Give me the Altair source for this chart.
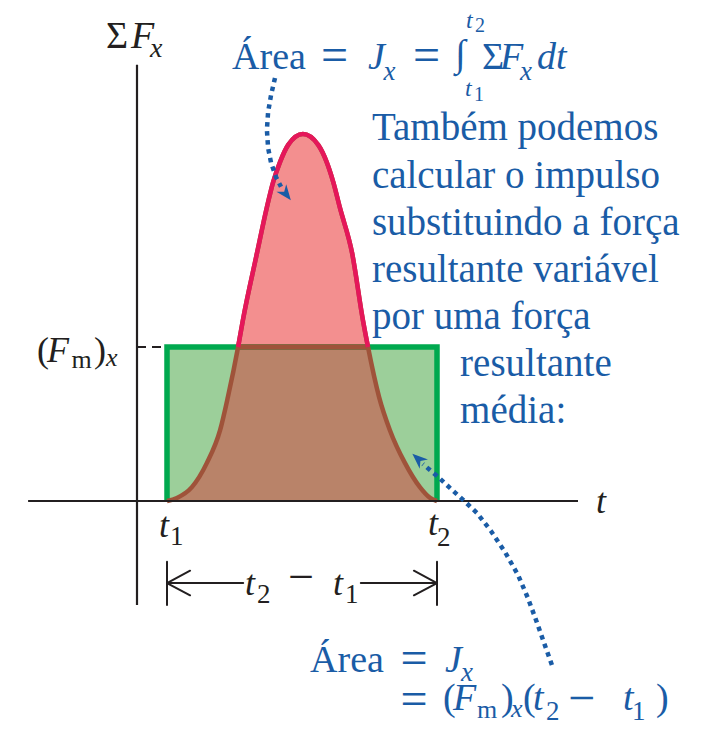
import altair as alt
import pandas as pd

# Impulse of a varying net force: the pulse F(t) between t1 and t2 and the
# rectangle of the average force (F_m)_x over the same interval.
T1, T2 = 1.0, 10.0
FM = 4.0

curve_t = [1.00, 1.33, 1.83, 2.33, 2.77, 3.03, 3.37, 3.53, 4.00, 4.32, 4.54, 4.77, 5.04, 5.53,
           6.04, 6.32, 6.54, 6.77, 7.17, 7.53, 7.70, 8.07, 8.43, 8.93, 9.43, 9.77, 10.00]
curve_f = [0.00, 0.08, 0.36, 0.99, 1.84, 2.70, 4.00, 4.70, 6.44, 7.60, 8.29, 8.81, 9.25, 9.53,
           9.25, 8.81, 8.29, 7.60, 6.44, 4.70, 4.00, 2.70, 1.84, 0.99, 0.36, 0.08, 0.00]

# dotted pointers from the captions to the two areas
ptr_top_t = [4.60, 4.47, 4.37, 4.33, 4.37, 4.47, 4.63, 4.80]
ptr_top_f = [10.99, 10.55, 10.10, 9.64, 9.17, 8.78, 8.42, 8.16]
ptr_bot_t = [13.83, 13.57, 13.30, 13.03, 12.70, 12.27, 11.80, 11.33, 10.87, 10.43, 10.00, 9.53]
ptr_bot_f = [-4.26, -3.69, -3.09, -2.52, -1.92, -1.33, -0.78, -0.31, 0.03, 0.34, 0.65, 0.96]
heads_t = [4.97, 9.37]
heads_f = [7.97, 1.09]
heads_angle = [52, 222]

NOTE_LINES = ["Também podemos", "calcular o impulso", "substituindo a força",
              "resultante variável", "por uma força", "resultante", "média:"]

# drawing frame
X_DOMAIN = [-4.5667, 18.8]
Y_DOMAIN = [-5.922, 13.013]
W, H = 701, 729

INK = "#231f20"
BLUE = "#1a5ca6"
GREEN = "#00a94f"
GREEN_FILL = "#9ccf9a"
PINK_FILL = "#f38f8f"
RED = "#e5175a"
BROWN_FILL = "#b98369"
BROWN = "#9f533a"
SERIF = "Liberation Serif"

xs = alt.Scale(domain=X_DOMAIN, nice=False, zero=False)
ys = alt.Scale(domain=Y_DOMAIN, nice=False, zero=False)


def X(f):
    return alt.X(f, type="quantitative", scale=xs, axis=None)


def Y(f):
    return alt.Y(f, type="quantitative", scale=ys, axis=None)


curve = pd.DataFrame({"t": curve_t, "F": curve_f})
base = alt.Chart(curve)

rect_df = pd.DataFrame({"t": [T1], "t2": [T2], "f": [0.0], "f2": [FM]})
green_fill = alt.Chart(rect_df).mark_rect(color=GREEN_FILL).encode(
    x=X("t"), x2="t2", y=Y("f"), y2="f2")

brown_area = base.transform_calculate(z="0").mark_area(
    color=BROWN_FILL, interpolate="monotone").encode(x=X("t"), y=Y("F"), y2="z:Q")

pink_area = base.transform_calculate(
    top=f"max(datum.F, {FM})", fm=str(FM)).mark_area(
    color=PINK_FILL, interpolate="monotone").encode(x=X("t"), y=Y("top"), y2="fm:Q")

outline_df = pd.DataFrame({"t": [T1, T1, T2, T2], "F": [0.0, FM, FM, 0.0], "i": [0, 1, 2, 3]})
green_outline = alt.Chart(outline_df).mark_line(
    color=GREEN, strokeWidth=5.5, strokeJoin="miter", strokeCap="butt").encode(
    x=X("t"), y=Y("F"), order="i:Q")

top_overlap = base.transform_filter(f"datum.F >= {FM}").transform_aggregate(
    a="min(t)", b="max(t)").transform_calculate(fm=str(FM)).mark_rule(
    color=BROWN, strokeWidth=5.5).encode(x=X("a"), x2="b:Q", y=Y("fm"))

brown_line = base.mark_line(color=BROWN, strokeWidth=4.5, interpolate="monotone").encode(
    x=X("t"), y=Y("F"))
red_line = base.transform_filter(f"datum.F >= {FM}").mark_line(
    color=RED, strokeWidth=4.5, interpolate="monotone").encode(x=X("t"), y=Y("F"))

# coordinate axes
axes_df = pd.DataFrame({"t": [0.0, -3.63], "F": [-2.70, 0.0], "t2": [0.0, 14.7], "F2": [11.33, 0.0]})
axes = alt.Chart(axes_df).mark_rule(color=INK, strokeWidth=2.2).encode(
    x=X("t"), y=Y("F"), x2="t2", y2="F2")

dash_df = pd.DataFrame({"t": [0.0], "F": [FM], "t2": [T1], "F2": [FM]})
dashed = alt.Chart(dash_df).mark_rule(color=INK, strokeWidth=2, strokeDash=[9, 6]).encode(
    x=X("t"), y=Y("F"), x2="t2", y2="F2")

# dimension line for t2 - t1
yb, bar_top, bar_bot, hx, hy = -2.13, -1.58, -2.70, 0.77, 0.32
seg = [
    (T1, bar_top, T1, bar_bot), (T2, bar_top, T2, bar_bot),
    (T1, yb, 3.54, yb), (7.46, yb, T2, yb),
    (T1, yb, T1 + hx, yb + hy), (T1, yb, T1 + hx, yb - hy),
    (T2, yb, T2 - hx, yb + hy), (T2, yb, T2 - hx, yb - hy),
]
dim_df = pd.DataFrame(seg, columns=["t", "F", "t2", "F2"])
dimension = alt.Chart(dim_df).mark_rule(color=INK, strokeWidth=2, strokeCap="round").encode(
    x=X("t"), y=Y("F"), x2="t2", y2="F2")

# dotted pointers
ptr_df = pd.concat([
    pd.DataFrame({"t": ptr_top_t, "F": ptr_top_f, "p": "a", "i": range(len(ptr_top_t))}),
    pd.DataFrame({"t": ptr_bot_t, "F": ptr_bot_f, "p": "b", "i": range(len(ptr_bot_t))}),
])
pointers = alt.Chart(ptr_df).mark_line(
    color=BLUE, strokeWidth=4.5, strokeDash=[4.5, 4.5], strokeCap="butt").encode(
    x=X("t"), y=Y("F"), detail="p:N", order="i:Q")

head_df = pd.DataFrame({"t": heads_t, "F": heads_f, "a": heads_angle})
heads = alt.Chart(head_df).mark_point(
    shape="M 1 0 L -1 -0.8 L -0.4 0 L -1 0.8 Z", filled=True, color=BLUE, opacity=1,
    size=240).encode(x=X("t"), y=Y("F"), angle=alt.Angle("a:Q", scale=None))

# text pieces: (t, F, text, size, italic, colour)
pieces = [
    (-1.03, 11.77, "Σ", 38, False, INK), (-0.20, 11.77, "F", 38, True, INK),
    (0.43, 11.53, "x", 28, True, INK),
    (15.30, -0.31, "t", 36, True, INK),
    (-3.33, 3.61, "(", 36, False, INK), (-3.0, 3.61, "F", 36, True, INK),
    (-2.18, 3.45, "m", 26, False, INK), (-1.43, 3.61, ")", 36, False, INK),
    (-1.03, 3.51, "x", 26, True, INK),
    (0.73, -0.94, "t", 36, True, INK), (1.10, -1.14, "1", 27, False, INK),
    (9.70, -0.88, "t", 36, True, INK), (10.00, -1.17, "2", 27, False, INK),
    (3.60, -2.44, "t", 36, True, INK), (4.00, -2.65, "2", 27, False, INK),
    (5.04, -2.37, "−", 46, False, INK),
    (6.53, -2.44, "t", 36, True, INK), (6.93, -2.65, "1", 27, False, INK),
    # J_x as an integral
    (3.17, 11.22, "Área", 38, False, BLUE), (6.13, 11.16, "=", 48, False, BLUE),
    (7.70, 11.22, "J", 38, True, BLUE), (8.22, 10.94, "x", 27, True, BLUE),
    (9.20, 11.16, "=", 48, False, BLUE), (10.60, 11.29, "∫", 38, False, BLUE),
    (10.97, 12.29, "t", 24, True, BLUE), (11.27, 12.18, "2", 20, False, BLUE),
    (10.93, 10.52, "t", 24, True, BLUE), (11.23, 10.39, "1", 20, False, BLUE),
    (11.50, 11.22, "Σ", 38, False, BLUE), (12.10, 11.22, "F", 38, True, BLUE),
    (12.77, 10.94, "x", 27, True, BLUE), (13.33, 11.22, "dt", 38, True, BLUE),
    # J_x from the average force
    (5.77, -4.44, "Área", 38, False, BLUE), (8.78, -4.49, "=", 48, False, BLUE),
    (10.27, -4.44, "J", 38, True, BLUE), (10.80, -4.68, "x", 27, True, BLUE),
    (8.78, -5.56, "=", 48, False, BLUE), (10.20, -5.43, "(", 38, False, BLUE),
    (10.53, -5.43, "F", 38, True, BLUE), (11.33, -5.64, "m", 26, False, BLUE),
    (12.13, -5.43, ")", 38, False, BLUE), (12.47, -5.61, "x", 26, True, BLUE),
    (12.87, -5.43, "(", 38, False, BLUE), (13.20, -5.43, "t", 38, True, BLUE),
    (13.63, -5.69, "2", 27, False, BLUE), (14.37, -5.53, "−", 48, False, BLUE),
    (16.20, -5.43, "t", 38, True, BLUE), (16.50, -5.69, "1", 27, False, BLUE),
    (17.30, -5.43, ")", 38, False, BLUE),
]
note_t = [7.83, 7.83, 7.83, 7.83, 7.83, 10.77, 10.77]
note_f = [9.38, 8.13, 6.91, 5.69, 4.47, 3.25, 2.03]
for tt, ff, line in zip(note_t, note_f, NOTE_LINES):
    pieces.append((tt, ff, line, 39, False, BLUE))

text_df = pd.DataFrame(pieces, columns=["t", "F", "s", "size", "it", "c"])


def text_layer(italic):
    return alt.Chart(text_df).transform_filter(
        "datum.it" if italic else "!datum.it").mark_text(
        font=SERIF, fontStyle="italic" if italic else "normal",
        align="left", baseline="alphabetic").encode(
        x=X("t"), y=Y("F"), text="s:N",
        size=alt.Size("size:Q", scale=None),
        color=alt.Color("c:N", scale=None))


chart = alt.layer(
    green_fill, brown_area, pink_area, green_outline, top_overlap,
    brown_line, red_line, axes, dashed, dimension, pointers, heads,
    text_layer(False), text_layer(True),
).properties(
    width=W, height=H, padding=0, autosize=alt.AutoSizeParams(type="none"),
    background="white",
).configure_view(stroke=None)

chart.save("out.html", embed_options={"renderer": "svg", "actions": False})
